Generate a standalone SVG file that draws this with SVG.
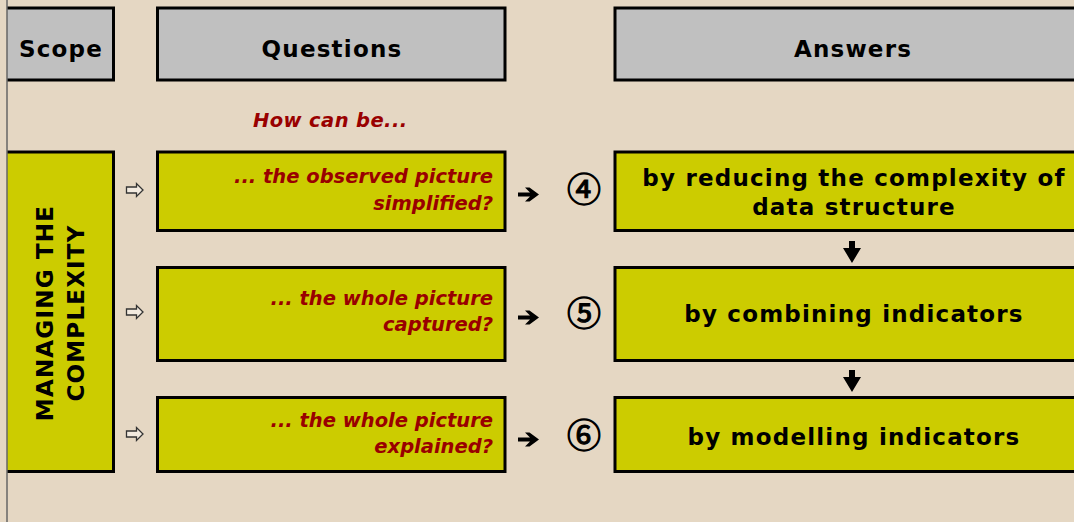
<svg xmlns="http://www.w3.org/2000/svg" width="1074" height="522" viewBox="0 0 1074 522">
  <style>
    .hdr { fill: #C0C0C0; stroke: #000; stroke-width: 3; }
    .box { fill: #CCCC00; stroke: #000; stroke-width: 3; }
    .t { font-family: "DejaVu Sans", Verdana, sans-serif; font-weight: bold; font-size: 23px; letter-spacing: 1.2px; fill: #000; }
    .q { font-family: "DejaVu Sans", Verdana, sans-serif; font-weight: bold; font-style: italic; font-size: 19.5px; fill: #990000; text-anchor: end; }
    .num { font-family: "Noto Sans CJK SC", "DejaVu Sans", sans-serif; font-weight: normal; font-size: 34px; fill: #000; stroke: #000; stroke-width: 1.1px; text-anchor: middle; }
    .mid { text-anchor: middle; }
    .hollow { fill: #F2EADF; stroke: #333; stroke-width: 1.3; stroke-linejoin: miter; }
    .solid { fill: #000; stroke: none; }
  </style>
  <rect x="0" y="0" width="1074" height="522" fill="#E5D7C3"/>

  <g id="scope-header">
    <path class="hdr" d="M7,8 H113.5 V80 H7"/>
    <text class="t mid" x="61" y="57">Scope</text>
  </g>
  <g id="questions-header">
    <rect class="hdr" x="157.5" y="8" width="347.5" height="72"/>
    <text class="t mid" x="332" y="57">Questions</text>
  </g>
  <g id="answers-header">
    <rect class="hdr" x="615" y="8" width="470" height="72"/>
    <text class="t mid" x="853" y="57">Answers</text>
  </g>

  <g id="how-can-be">
    <text class="q" x="253" y="127" style="text-anchor:start;letter-spacing:0.4px">How can be...</text>
  </g>

  <g id="scope-managing">
    <path class="box" d="M7,152 H113.5 V471.5 H7"/>
    <text class="t mid" transform="translate(52.5,313) rotate(-90)">MANAGING THE</text>
    <text class="t mid" transform="translate(84,313) rotate(-90)">COMPLEXITY</text>
  </g>

  <g id="q1">
    <rect class="box" x="157.5" y="152" width="347.5" height="78.5"/>
    <text class="q" x="493" y="183">... the observed picture</text>
    <text class="q" x="493" y="210">simplified?</text>
  </g>
  <g id="q2">
    <rect class="box" x="157.5" y="267.5" width="347.5" height="93"/>
    <text class="q" x="493" y="305">... the whole picture</text>
    <text class="q" x="493" y="331">captured?</text>
  </g>
  <g id="q3">
    <rect class="box" x="157.5" y="397.5" width="347.5" height="74"/>
    <text class="q" x="493" y="427">... the whole picture</text>
    <text class="q" x="493" y="453">explained?</text>
  </g>

  <g id="a1">
    <rect class="box" x="615" y="152" width="470" height="78.5"/>
    <text class="t mid" x="854" y="186">by reducing the complexity of</text>
    <text class="t mid" x="854" y="215">data structure</text>
  </g>
  <g id="a2">
    <rect class="box" x="615" y="267.5" width="470" height="93"/>
    <text class="t mid" x="854" y="322">by combining indicators</text>
  </g>
  <g id="a3">
    <rect class="box" x="615" y="397.5" width="470" height="74"/>
    <text class="t mid" x="854" y="445">by modelling indicators</text>
  </g>

  <g id="n4"><text class="num" x="584" y="202">④</text></g>
  <g id="n5"><text class="num" x="584" y="326">⑤</text></g>
  <g id="n6"><text class="num" x="584" y="448">⑥</text></g>

  <g id="connectors">
    <path class="hollow" d="M126.5,187 H136.5 V183.5 L143,190 L136.5,196.5 V193 H126.5 Z"/>
    <path class="hollow" d="M126.5,309 H136.5 V305.5 L143,312 L136.5,318.5 V315 H126.5 Z"/>
    <path class="hollow" d="M126.5,431 H136.5 V427.5 L143,434 L136.5,440.5 V437 H126.5 Z"/>
    <path class="solid" d="M518,192.5 H530 L525,187.5 H529.5 L539,194.5 L529.5,201.5 H525 L530,196.5 H518 Z"/>
    <path class="solid" d="M518,315.5 H530 L525,310.5 H529.5 L539,317.5 L529.5,324.5 H525 L530,319.5 H518 Z"/>
    <path class="solid" d="M518,437.5 H530 L525,432.5 H529.5 L539,439.5 L529.5,446.5 H525 L530,441.5 H518 Z"/>
    <path class="solid" d="M849,241 H855 V248 H861 L852,263 L843,248 H849 Z"/>
    <path class="solid" d="M849,370 H855 V377 H861 L852,392 L843,377 H849 Z"/>
  </g>

  <line x1="7" y1="0" x2="7" y2="522" stroke="#666" stroke-width="1.5"/>
</svg>
